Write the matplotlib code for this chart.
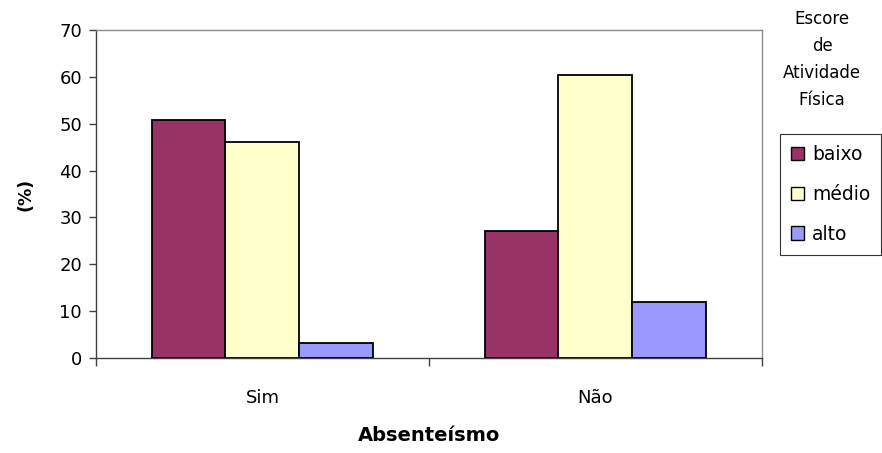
import matplotlib
matplotlib.use("Agg")
import matplotlib.pyplot as plt
import numpy as np
from matplotlib.patches import Patch

# Data
categories = ["Sim", "Não"]
series_names = ["baixo", "médio", "alto"]
baixo = [50.8, 27.1]
medio = [46.0, 60.5]
alto = [3.1, 12.0]
colors = ["#993366", "#FFFFCC", "#9999FF"]

plt.rcParams["font.family"] = ["DejaVu Sans"]

fig = plt.figure(figsize=(8.82, 4.53), dpi=100)
ax = fig.add_axes([0.1088, 0.2097, 0.755, 0.7241])

x = np.arange(len(categories))
width = 0.222
for i, (vals, col) in enumerate(zip([baixo, medio, alto], colors)):
    ax.bar(x + (i - 1) * width, vals, width, color=col, edgecolor="black",
           linewidth=1.3, label=series_names[i], zorder=3)

ax.set_xlim(-0.5, 1.5)
ax.set_ylim(0, 70)
ax.set_yticks(range(0, 71, 10))
ax.set_xticks(x)
ax.set_xticklabels(categories)
ax.set_xticks([-0.5, 0.5, 1.5], minor=True)
ax.tick_params(axis="x", which="major", length=0, pad=22, labelsize=13)
ax.tick_params(axis="x", which="minor", length=6, width=1, color="#404040")
ax.tick_params(axis="y", length=5, width=1, color="#404040", labelsize=13, pad=5)

for s in ["left", "bottom"]:
    ax.spines[s].set_color("#404040")
    ax.spines[s].set_linewidth(1)
for s in ["top", "right"]:
    ax.spines[s].set_color("#8c8c8c")
    ax.spines[s].set_linewidth(1)

ax.set_ylabel("(%)", fontsize=12.5, fontweight="bold", labelpad=18)
ax.set_xlabel("Absenteísmo", fontsize=14, fontweight="bold", labelpad=14)

# legend title as separate text
fig.text(0.932, 0.978, "Escore\nde\nAtividade\nFísica", ha="center", va="top",
         fontsize=12, linespacing=1.65)

handles = [Patch(facecolor=c, edgecolor="black", label=n) for c, n in zip(colors, series_names)]
leg = fig.legend(handles=handles, loc="upper left", bbox_to_anchor=(0.8844, 0.704),
                 fontsize=13.5, frameon=True, fancybox=False, handlelength=0.7,
                 handleheight=0.7, handletextpad=0.4, borderpad=0.6,
                 labelspacing=1.1, borderaxespad=0)
leg.get_frame().set_edgecolor("black")
leg.get_frame().set_linewidth(0.8)

fig.savefig("out.png", dpi=100)
